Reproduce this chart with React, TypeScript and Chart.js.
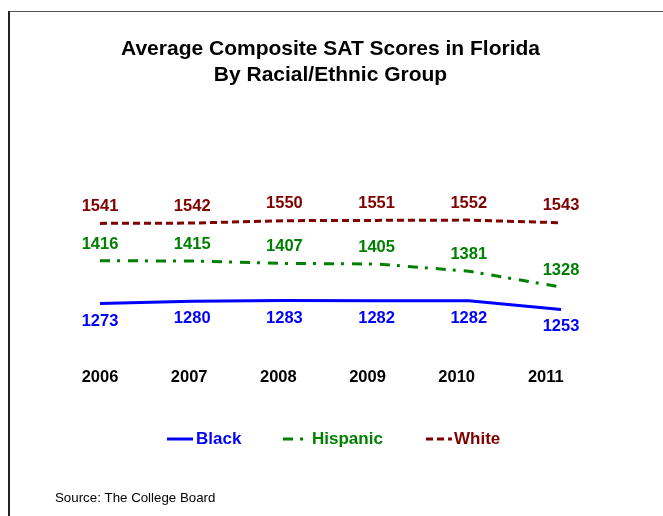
import React, { useEffect, useRef } from "react";
import { Chart, registerables } from "chart.js";

Chart.register(...registerables);

const years = ["2006", "2007", "2008", "2009", "2010", "2011"];
const blackScores = [1273, 1280, 1283, 1282, 1282, 1253];
const hispanicScores = [1416, 1415, 1407, 1405, 1381, 1328];
const whiteScores = [1541, 1542, 1550, 1551, 1552, 1543];

const titleLines = ["Average Composite SAT Scores in Florida", "By Racial/Ethnic Group"];
const sourceText = "Source: The College Board";

const FONT = "'Liberation Sans', Arial, Helvetica, sans-serif";

const BLUE = "#0000FF";
const GREEN = "#008000";
const DARKRED = "#800000";

const seriesStyles = [
  { label: "Black", data: blackScores, color: BLUE, dash: [] as number[], labelOffset: 17.5 },
  { label: "Hispanic", data: hispanicScores, color: GREEN, dash: [10, 7, 3, 8], labelOffset: -16.5 },
  { label: "White", data: whiteScores, color: DARKRED, dash: [7, 4], labelOffset: -17 },
];

const legendLayout = [
  { x0: 167, x1: 193, tx: 196 },
  { x0: 283, x1: 304, tx: 312 },
  { x0: 426, x1: 452, tx: 454 },
];

const framePlugin = {
  id: "frame",
  beforeDraw(chart: any) {
    const ctx = chart.ctx;
    ctx.save();
    ctx.fillStyle = "#ffffff";
    ctx.fillRect(0, 0, chart.width, chart.height);
    ctx.fillStyle = "#555555";
    ctx.fillRect(8, 11, chart.width - 8, 1);
    ctx.fillStyle = "#222222";
    ctx.fillRect(8, 11, 2, chart.height - 11);
    ctx.restore();
  },
};

const valueLabelPlugin = {
  id: "valueLabels",
  afterDatasetsDraw(chart: any) {
    const ctx = chart.ctx;
    ctx.save();
    ctx.font = `bold 16.5px ${FONT}`;
    ctx.textAlign = "center";
    ctx.textBaseline = "middle";
    chart.data.datasets.forEach((ds: any, i: number) => {
      const meta = chart.getDatasetMeta(i);
      const style = seriesStyles[i];
      ctx.fillStyle = style.color;
      meta.data.forEach((pt: any, j: number) => {
        ctx.fillText(String(ds.data[j]), pt.x, pt.y + style.labelOffset);
      });
    });
    ctx.restore();
  },
};

const legendSourcePlugin = {
  id: "legendSource",
  afterDraw(chart: any) {
    const ctx = chart.ctx;
    ctx.save();
    const ly = 439;
    seriesStyles.forEach((s, i) => {
      const l = legendLayout[i];
      ctx.strokeStyle = s.color;
      ctx.lineWidth = 3;
      ctx.lineCap = "butt";
      ctx.setLineDash(s.dash);
      ctx.beginPath();
      ctx.moveTo(l.x0, ly);
      ctx.lineTo(l.x1, ly);
      ctx.stroke();
      ctx.setLineDash([]);
      ctx.fillStyle = s.color;
      ctx.font = `bold 17px ${FONT}`;
      ctx.textAlign = "left";
      ctx.textBaseline = "middle";
      ctx.fillText(s.label, l.tx, ly);
    });
    ctx.fillStyle = "#000000";
    ctx.font = `13.3px ${FONT}`;
    ctx.textAlign = "left";
    ctx.textBaseline = "middle";
    ctx.fillText(sourceText, 55, 498);
    ctx.restore();
  },
};

export default function App() {
  const canvasRef = useRef<HTMLCanvasElement | null>(null);

  useEffect(() => {
    if (!canvasRef.current) return;
    const chart = new Chart(canvasRef.current, {
      type: "line",
      data: {
        labels: years,
        datasets: seriesStyles.map((s) => ({
          label: s.label,
          data: s.data,
          borderColor: s.color,
          backgroundColor: s.color,
          borderWidth: 3,
          borderDash: s.dash,
          borderCapStyle: "butt",
          pointRadius: 0,
          pointHoverRadius: 0,
          tension: 0,
          fill: false,
          xAxisID: "x",
          yAxisID: "y",
        })),
      },
      options: {
        responsive: false,
        animation: false,
        devicePixelRatio: 1,
        layout: { padding: { top: 0, left: 100, right: 102, bottom: 102.8 } },
        events: [],
        plugins: {
          legend: { display: false },
          tooltip: { enabled: false },
          title: {
            display: true,
            text: titleLines,
            color: "#000000",
            font: { family: FONT, size: 21, weight: "bold", lineHeight: "26px" },
            padding: { top: 36, bottom: 32 },
          },
        },
        scales: {
          x: {
            type: "category",
            display: false,
            offset: false,
          },
          y: {
            type: "linear",
            display: false,
            min: 1146,
            max: 1887,
          },
          x2: {
            type: "linear",
            position: "bottom",
            min: 0,
            max: 5.17,
            grid: { display: false, drawTicks: false },
            border: { display: false },
            afterBuildTicks: (axis: any) => {
              axis.ticks = years.map((_, i) => ({ value: i }));
            },
            ticks: {
              autoSkip: false,
              maxRotation: 0,
              padding: 26,
              color: "#000000",
              font: { family: FONT, size: 16.5, weight: "bold" },
              callback: (v: any) => years[Math.round(Number(v))] ?? "",
            },
          },
        },
      } as any,
      plugins: [framePlugin, valueLabelPlugin, legendSourcePlugin],
    });
    return () => chart.destroy();
  }, []);

  return (
    <div style={{ position: "absolute", left: 0, top: 0, width: 663, height: 516, background: "#fff" }}>
      <canvas ref={canvasRef} width={663} height={516} style={{ display: "block", width: 663, height: 516 }} />
    </div>
  );
}
